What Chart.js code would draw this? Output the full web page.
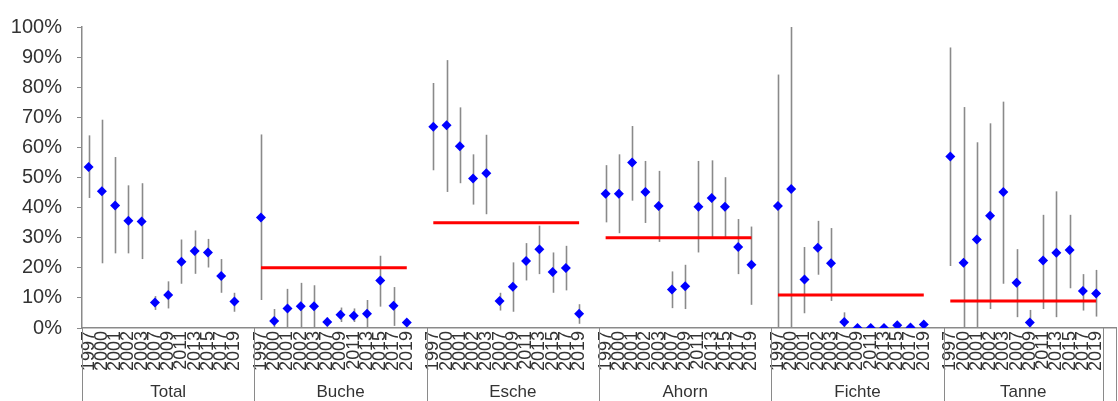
<!DOCTYPE html>
<html>
<head>
<meta charset="utf-8">
<script src="https://cdn.jsdelivr.net/npm/chart.js@4/dist/chart.umd.min.js"></script>
<style>
  html, body { margin: 0; padding: 0; background: #fff; }
</style>
</head>
<body>
<canvas id="chart" width="1118" height="401"></canvas>
<script>
// categories
const years = ['1997', '2000', '2001', '2002', '2003', '2007', '2009', '2011', '2013', '2015', '2017', '2019']
const groups = ['Total', 'Buche', 'Esche', 'Ahorn', 'Fichte', 'Tanne']

// share in % per year: mean, lower and upper end of the bar
const totalMean = [53.5, 45.4, 40.7, 35.6, 35.4, 8.5, 11, 22, 25.6, 25.1, 17.3, 8.8]
const totalLow  = [43.2, 21.5, 24.8, 24.8, 22.9, 6, 6.5, 14.7, 18, 20.1, 11.7, 5.4]
const totalHigh = [64, 69.2, 56.8, 47.4, 48.1, 10.6, 15.5, 29.4, 32.4, 29.6, 22.9, 11.7]

const bucheMean = [36.7, 2.3, 6.5, 7.2, 7.2, 2, 4.4, 4.1, 4.7, 15.8, 7.4, 1.8]
const bucheLow  = [9.3, 0, 0, 0, 0, 0.5, 2, 2, 0, 7.1, 0.7, 0.5]
const bucheHigh = [64.3, 6.3, 13, 15, 14.2, 3.5, 6.8, 6.5, 9.3, 24, 13.6, 3]

const escheMean = [66.9, 67.4, 60.4, 49.7, 51.4, 9, 13.7, 22.3, 26.2, 18.6, 19.9, 4.7]
const escheLow  = [52.4, 45.2, 48.1, 41, 37.8, 5.8, 5.4, 15.8, 17.9, 11.7, 12.5, 1.4]
const escheHigh = [81.4, 89, 73.3, 57.7, 64.2, 11.7, 21.8, 28.2, 34, 25.1, 27.3, 7.9]

const ahornMean = [44.6, 44.6, 55, 45.2, 40.5, 12.8, 13.9, 40.3, 43.2, 40.3, 26.9, 21]
const ahornLow  = [35.1, 31.5, 42.3, 34.9, 28.6, 6.6, 6.3, 25.1, 30.2, 30.2, 17.9, 7.7]
const ahornHigh = [54.1, 57.7, 67.1, 55.5, 52.2, 18.8, 21, 55.5, 55.7, 50.1, 36.2, 33.7]

const fichteMean = [40.5, 46.2, 16.1, 26.7, 21.5, 2, 0, 0, 0, 0.9, 0.2, 1.2]
const fichteLow  = [0, 0, 4.9, 17.7, 9, 0, 0, 0, 0, 0, 0, 0]
const fichteHigh = [84.2, 100, 26.9, 35.6, 33.2, 5.2, 0, 0, 0, 0.9, 0.2, 1.2]

const tanneMean = [57, 21.7, 29.4, 37.3, 45.2, 15, 1.8, 22.4, 25, 25.9, 12.3, 11.5]
const tanneLow  = [20.6, 0, 0, 6.3, 14.7, 3.6, 0, 6.3, 3.6, 13.2, 5.8, 3.8]
const tanneHigh = [93.2, 73.4, 61.7, 68, 75.2, 26.2, 6, 37.6, 45.4, 37.6, 17.9, 19.3]

// red reference line per group (none for Total)
const referenceLevel = [null, 20, 35, 30, 11, 9]

const groupSeries = [
    [totalMean, totalLow, totalHigh],
    [bucheMean, bucheLow, bucheHigh],
    [escheMean, escheLow, escheHigh],
    [ahornMean, ahornLow, ahornHigh],
    [fichteMean, fichteLow, fichteHigh],
    [tanneMean, tanneLow, tanneHigh]
]

// flatten: 12 years per group, one empty slot after each group
const labels = []
const mean = []
const low = []
const high = []
const reference = []
const groupStart = []
groups.forEach((g, gi) => {
    groupStart.push(labels.length)
    years.forEach((y, yi) => {
        labels.push(y)
        mean.push(groupSeries[gi][0][yi])
        low.push(groupSeries[gi][1][yi])
        high.push(groupSeries[gi][2][yi])
        reference.push(referenceLevel[gi])
    })
    if (gi < groups.length - 1) {
        labels.push('')
        mean.push(null)
        low.push(null)
        high.push(null)
        reference.push(null)
    }
})
// trailing empty slot after the last group, boxed on its own
groupStart.push(labels.length)
labels.push('')
mean.push(null)
low.push(null)
high.push(null)
reference.push(null)
groupStart.push(labels.length)

const errorBars = {
    id: 'errorBars',
    beforeDatasetsDraw(chart) {
        const ctx = chart.ctx
        const x = chart.scales.x
        const y = chart.scales.y
        ctx.save()
        ctx.strokeStyle = '#8a8a8a'
        ctx.lineWidth = 1.6
        low.forEach((lo, i) => {
            if (lo === null) return
            const px = Math.round(x.getPixelForValue(i)) + 0.5
            ctx.beginPath()
            ctx.moveTo(px, y.getPixelForValue(lo))
            ctx.lineTo(px, y.getPixelForValue(high[i]))
            ctx.stroke()
        })
        ctx.restore()
    }
}

const groupAxis = {
    id: 'groupAxis',
    afterDraw(chart) {
        const ctx = chart.ctx
        const x = chart.scales.x
        const step = x.getPixelForValue(1) - x.getPixelForValue(0)
        const top = chart.chartArea.bottom
        const bottom = chart.height
        ctx.save()
        ctx.strokeStyle = '#8a8a8a'
        ctx.lineWidth = 1
        const edges = groupStart.map(i => x.getPixelForValue(i) - step / 2)
        edges.forEach(px => {
            ctx.beginPath()
            ctx.moveTo(Math.round(px) + 0.5, top)
            ctx.lineTo(Math.round(px) + 0.5, bottom)
            ctx.stroke()
        })
        ctx.fillStyle = '#333'
        ctx.font = '17px "Liberation Sans", Arial, sans-serif'
        ctx.textAlign = 'center'
        ctx.textBaseline = 'middle'
        groups.forEach((g, gi) => {
            ctx.fillText(g, (edges[gi] + edges[gi + 1]) / 2, 392)
        })
        ctx.restore()
    }
}

new Chart(document.getElementById('chart'), {
    type: 'line',
    data: {
        labels: labels,
        datasets: [
            {
                label: 'Mittelwert',
                data: mean,
                showLine: false,
                pointStyle: 'rectRot',
                pointRadius: 5,
                pointBackgroundColor: '#0000ff',
                pointBorderColor: '#0000ff',
                pointBorderWidth: 0
            },
            {
                label: 'Referenz',
                data: reference,
                borderColor: '#ff0000',
                borderWidth: 3,
                pointRadius: 0,
                spanGaps: false
            }
        ]
    },
    options: {
        responsive: false,
        animation: false,
        devicePixelRatio: 1,
        layout: { autoPadding: false, padding: { top: 21, right: 2, left: 0, bottom: 0 } },
        plugins: {
            legend: { display: false },
            tooltip: { enabled: false }
        },
        scales: {
            x: {
                type: 'category',
                offset: true,
                grid: { display: true, drawOnChartArea: false, drawTicks: false },
                border: { display: true, color: '#8a8a8a', width: 1.5 },
                ticks: {
                    autoSkip: false,
                    maxRotation: 90,
                    minRotation: 90,
                    padding: 3,
                    color: '#333',
                    font: { family: '"Liberation Sans", Arial, sans-serif', size: 18 }
                },
                afterFit(scale) {
                    scale.height = 73
                    scale.paddingLeft = 0
                    scale.paddingRight = 0
                }
            },
            y: {
                min: 0,
                max: 100,
                ticks: {
                    stepSize: 10,
                    padding: 15,
                    color: '#333',
                    font: { family: '"Liberation Sans", Arial, sans-serif', size: 20 },
                    callback: v => v + '%'
                },
                grid: { drawOnChartArea: false, tickLength: 5, color: '#8a8a8a' },
                border: { display: true, color: '#8a8a8a', width: 1.5 },
                afterFit(scale) { scale.width = 82 }
            }
        }
    },
    plugins: [errorBars, groupAxis]
})
</script>
</body>
</html>
